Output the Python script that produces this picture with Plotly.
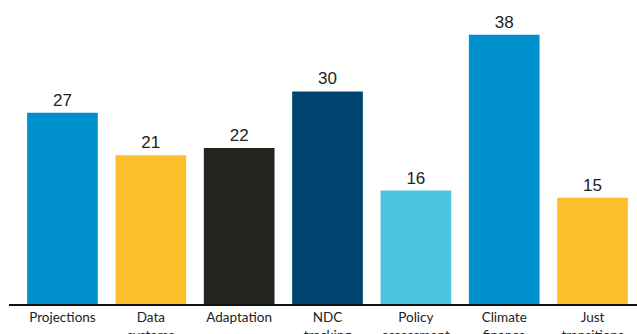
import plotly.graph_objects as go

categories = ["Projections", "Data<br>systems", "Adaptation", "NDC<br>tracking",
              "Policy<br>assessment", "Climate<br>finance", "Just<br>transitions"]
values = [27, 21, 22, 30, 16, 38, 15]
colors = ["#0090CE", "#FBBF2A", "#25241F", "#004571", "#4DC4DF", "#0090CE", "#FBBF2A"]

fig = go.Figure(go.Bar(
    x=categories, y=values, marker=dict(color=colors, line=dict(width=0)),
    text=[str(v) for v in values], textposition="outside", cliponaxis=False,
    textfont=dict(family="Liberation Sans, Arial", size=17, color="#222222"),
    hoverinfo="skip",
))

fig.update_layout(
    width=637, height=334, margin=dict(l=9, r=0, t=0, b=30, autoexpand=False),
    paper_bgcolor="white", plot_bgcolor="white", bargap=0.2, showlegend=False,
    xaxis=dict(range=[-0.605, 6.503], showline=True, linecolor="#111111", linewidth=1.5,
               ticks="", showgrid=False, automargin=False,
               tickfont=dict(family="Lato, Open Sans", size=13.5, color="#222222")),
    yaxis=dict(range=[0, 42.9], visible=False, showgrid=False, automargin=False),
)

fig.write_html("out.html", config={"displayModeBar": False},
               post_script="document.body.style.margin='0';document.body.style.overflow='hidden';")
